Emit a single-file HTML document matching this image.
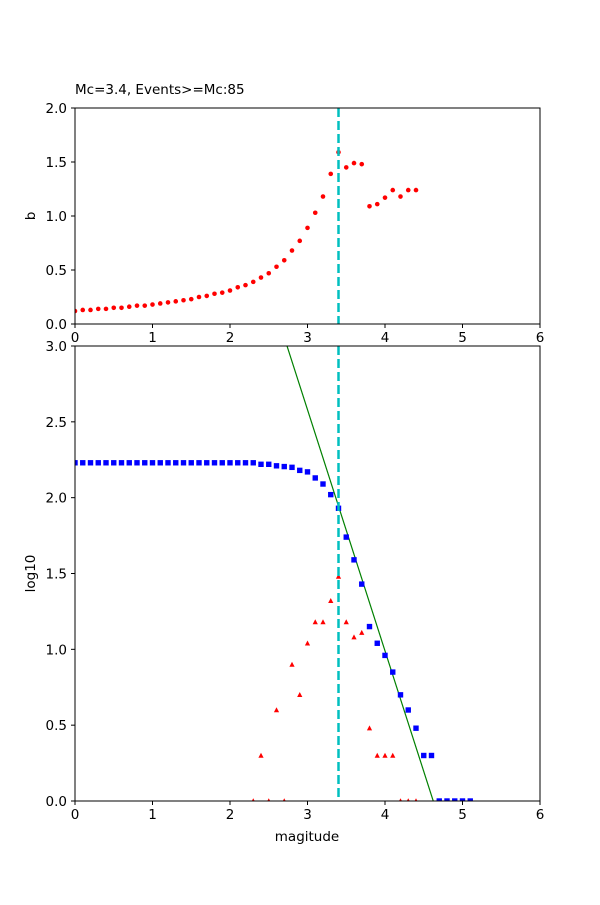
<!DOCTYPE html>
<html><head><meta charset="utf-8"><style>
body{margin:0;background:#fff}
svg text{font-family:"DejaVu Sans","Liberation Sans",sans-serif;font-size:13.5px;fill:#000}
</style></head><body>
<svg id="s" width="600" height="900" xmlns="http://www.w3.org/2000/svg"></svg>
<script>
const s=document.getElementById('s');let h='';
const X=m=>75+m*77.5;
const YT=v=>324-v*108, YB=v=>801-v*(455/3);
h+='<text x="75" y="94">Mc=3.4, Events&gt;=Mc:85</text>';
// top data
const b=[0.12,0.13,0.13,0.14,0.14,0.15,0.15,0.16,0.17,0.17,0.18,0.19,0.20,0.21,0.22,0.23,0.25,0.26,0.28,0.29,0.31,0.34,0.36,0.39,0.43,0.47,0.53,0.59,0.68,0.77,0.89,1.03,1.18,1.39,1.59,1.45,1.49,1.48,1.09,1.11,1.17,1.24,1.18,1.24,1.24];
h+='<svg x="75" y="108" width="465" height="216" overflow="hidden"><g transform="translate(-75,-108)">';
b.forEach((v,i)=>h+=`<circle cx="${X(i/10)}" cy="${YT(v)}" r="2.3" fill="red"/>`);
h+=`<line x1="${X(3.4)}" y1="108" x2="${X(3.4)}" y2="324" stroke="#00bfbf" stroke-width="2.5" stroke-dasharray="9,4"/>`;
h+='</g></svg>';
// bottom data
h+='<svg x="75" y="346" width="465" height="455" overflow="hidden"><g transform="translate(-75,-346)">';
const a=7.35,sl=1.59;
h+=`<line x1="${X(2.6)}" y1="${YB(a-sl*2.6)}" x2="${X(4.7)}" y2="${YB(a-sl*4.7)}" stroke="green" stroke-width="1.2"/>`;
const bl=[];for(let i=0;i<=23;i++)bl.push(2.23);
bl.push(2.22,2.22,2.21,2.205,2.2,2.18,2.17,2.13,2.09,2.02,1.93,1.74,1.59,1.43,1.15,1.04,0.96,0.85,0.70,0.60,0.48,0.30,0.30,0,0,0,0,0);
bl.forEach((v,i)=>h+=`<rect x="${X(i/10)-2.7}" y="${YB(v)-2.7}" width="5.4" height="5.4" fill="blue"/>`);
const tr=[[2.3,0],[2.4,.3],[2.5,0],[2.6,.6],[2.7,0],[2.8,.9],[2.9,.7],[3.0,1.04],[3.1,1.18],[3.2,1.18],[3.3,1.32],[3.4,1.48],[3.5,1.18],[3.6,1.08],[3.7,1.11],[3.8,.48],[3.9,.3],[4.0,.3],[4.1,.3],[4.2,0],[4.3,0],[4.4,0]];
tr.forEach(([m,v])=>{const x=X(m),y=YB(v);h+=`<polygon points="${x-2.6},${y+2.2} ${x+2.6},${y+2.2} ${x},${y-2.8}" fill="red"/>`});
h+=`<line x1="${X(3.4)}" y1="346" x2="${X(3.4)}" y2="801" stroke="#00bfbf" stroke-width="2.5" stroke-dasharray="9,4"/>`;
h+='</g></svg>';
// axes
function axes(top,bot,Y,ticks,lab){
 h+=`<rect x="75" y="${top}" width="465" height="${bot-top}" fill="none" stroke="#000" stroke-width="1"/>`;
 for(let m=0;m<=6;m++){h+=`<line x1="${X(m)}" y1="${bot}" x2="${X(m)}" y2="${bot+4}" stroke="#000"/><text x="${X(m)}" y="${bot+18}" text-anchor="middle">${m}</text>`;}
 ticks.forEach(t=>{h+=`<line x1="71" y1="${Y(t)}" x2="75" y2="${Y(t)}" stroke="#000"/><text x="67" y="${Y(t)+5}" text-anchor="end">${t.toFixed(1)}</text>`});
 h+=`<text transform="translate(35,${(top+bot)/2}) rotate(-90)" text-anchor="middle">${lab}</text>`;
}
axes(108,324,YT,[0,.5,1,1.5,2],'b');
axes(346,801,YB,[0,.5,1,1.5,2,2.5,3],'log10');
h+='<text x="307" y="841" text-anchor="middle">magitude</text>';
s.innerHTML=h;
</script>
</body></html>
